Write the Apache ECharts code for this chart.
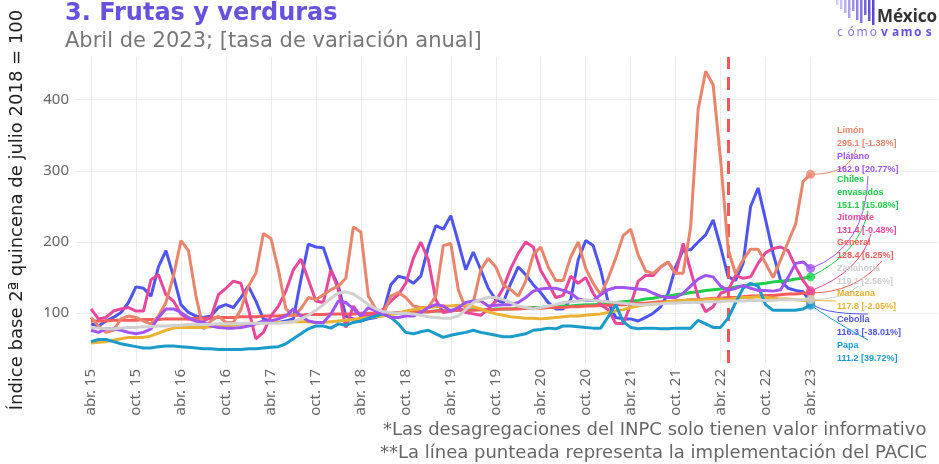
<!DOCTYPE html>
<html>
<head>
<meta charset="utf-8">
<script src="https://cdn.jsdelivr.net/npm/echarts@6.0.0/dist/echarts.min.js"></script>
<style>
html, body { margin: 0; padding: 0; background: #fff; }
#chart { width: 939px; height: 464px; }
</style>
</head>
<body>
<div id="chart"></div>
<script>
var monthNames = ['ene.', 'feb.', 'mar.', 'abr.', 'may.', 'jun.', 'jul.', 'ago.', 'sep.', 'oct.', 'nov.', 'dic.'];

// feb. 15 .. sep. 24 (extra months only give room on both sides of the data)
var categories = [];
for (var yr = 2015; yr <= 2024; yr++) {
    for (var mo = 0; mo < 12; mo++) {
        if ((yr === 2015 && mo < 1) || (yr === 2024 && mo > 8)) continue;
        categories.push(monthNames[mo] + ' ' + String(yr).slice(2));
    }
}
var firstMonth = 'abr. 15';
var lastMonth = 'abr. 23';
var pacicMonth = 'may. 22';

// abr. 15 .. abr. 23, monthly
var cebolla = [
    85, 82, 89, 94, 101, 115, 137, 135, 124, 165, 188, 152, 112, 101, 96, 94, 96, 108, 112, 108, 122, 138, 117, 92, 89,
    87, 89, 92, 147, 197, 193, 192, 161, 138, 96, 92, 89, 92, 94, 101, 140, 152, 149, 142, 152, 193, 223, 218, 237, 200,
    161, 186, 161, 135, 119, 115, 142, 165, 154, 140, 129, 115, 106, 106, 119, 175, 202, 195, 161, 115, 94, 92, 92, 89, 94,
    100, 109, 128, 165, 189, 189, 200, 210, 231, 193, 151, 146, 170, 250, 276, 231, 184, 146, 135, 132, 130, 116.3
];
var chiles = new Array(36).fill(null).concat([
    98, 99, 99, 100, 100, 100, 101, 101, 102, 102, 103, 103, 104, 104,
    104, 105, 105, 105, 106, 106, 106, 107, 107, 108, 108, 109, 109, 110, 110, 111, 112, 112, 113, 114, 115, 116, 117, 118, 120,
    121, 123, 124, 126, 127, 129, 130, 132, 133, 134, 135, 137, 138, 140, 141, 142, 144, 145, 146, 148, 149, 151.1
]);
var general = [
    89, 89, 89, 90, 90, 90, 90, 91, 91, 91, 92, 92, 92, 92, 93, 93, 93, 94, 94, 94, 95, 95, 95, 96, 96,
    96, 97, 97, 97, 98, 98, 98, 99, 99, 99, 99, 100, 100, 100, 100, 101, 101, 101, 102, 102, 102, 103, 103, 103, 104,
    104, 104, 105, 105, 105, 106, 106, 106, 107, 107, 107, 108, 108, 108, 109, 109, 110, 110, 111, 111, 112, 112, 113, 114, 114,
    115, 116, 116, 117, 118, 119, 119, 120, 121, 121, 122, 122, 123, 124, 124, 125, 125, 126, 127, 127, 128, 128.4
];
var jitomate = [
    106, 92, 94, 103, 106, 108, 103, 103, 147, 154, 126, 117, 99, 92, 89, 89, 94, 126, 135, 145, 142, 106, 64, 73, 96,
    110, 131, 161, 176, 147, 117, 115, 161, 133, 80, 110, 96, 96, 99, 106, 117, 126, 142, 177, 200, 175, 119, 101, 103, 108,
    101, 99, 97, 106, 117, 135, 163, 184, 200, 193, 160, 142, 122, 125, 152, 142, 150, 128, 112, 105, 86, 85, 112, 145, 153,
    153, 165, 172, 155, 198, 160, 123, 102, 109, 128, 132, 153, 149, 151, 170, 185, 191, 193, 188, 165, 146, 131.4
];
var limon = [
    94, 82, 73, 76, 92, 96, 94, 89, 85, 96, 115, 152, 202, 188, 124, 78, 89, 96, 87, 87, 105, 138, 156, 212, 205,
    161, 106, 96, 106, 122, 119, 126, 133, 138, 149, 221, 214, 124, 106, 99, 124, 129, 122, 110, 108, 108, 124, 195, 198, 133,
    106, 115, 161, 177, 165, 140, 133, 124, 145, 182, 193, 165, 146, 146, 179, 200, 163, 142, 126, 149, 177, 209, 218, 182, 159,
    156, 165, 172, 156, 156, 221, 386, 440, 421, 315, 190, 155, 175, 190, 190, 170, 150, 175, 200, 225, 285, 295.1
];
var manzana = [
    58, 59, 60, 62, 64, 66, 66, 66, 68, 72, 76, 79, 80, 80, 80, 80, 81, 82, 82, 83, 84, 85, 86, 87, 88,
    87, 87, 88, 88, 88, 87, 87, 88, 89, 90, 91, 93, 94, 95, 96, 98, 100, 103, 105, 107, 108, 109, 110, 110, 111,
    111, 109, 106, 102, 99, 97, 95, 94, 93, 93, 92, 93, 94, 95, 96, 96, 97, 98, 99, 101, 103, 105, 108, 110, 112,
    113, 114, 116, 117, 118, 118, 119, 119, 120, 120, 119, 121, 122, 122, 123, 122, 121, 120, 120, 119, 118, 117.8
];
var papa = [
    60, 63, 63, 60, 57, 55, 53, 51, 51, 53, 54, 54, 53, 52, 51, 50, 50, 49, 49, 49, 49, 50, 50, 51, 52,
    53, 57, 64, 71, 78, 82, 82, 79, 85, 83, 87, 89, 93, 96, 99, 94, 85, 73, 71, 74, 76, 71, 66, 69, 71,
    73, 76, 73, 71, 69, 67, 67, 69, 71, 76, 77, 79, 78, 82, 82, 81, 80, 79, 79, 95, 112, 88, 80, 78, 79,
    79, 78, 78, 79, 79, 79, 90, 85, 80, 80, 93, 115, 135, 142, 138, 112, 104, 104, 104, 104, 106, 111.2
];
var platano = [
    76, 73, 78, 78, 76, 73, 71, 73, 78, 94, 106, 106, 101, 94, 89, 87, 82, 80, 79, 79, 80, 82, 85, 89, 89,
    92, 96, 106, 96, 89, 87, 87, 99, 117, 115, 106, 96, 108, 103, 99, 94, 94, 96, 96, 101, 108, 112, 110, 103, 108,
    115, 117, 117, 110, 111, 112, 112, 115, 122, 131, 134, 135, 135, 132, 128, 120, 118, 118, 126, 133, 136, 136, 135, 134, 133,
    128, 124, 122, 122, 128, 138, 148, 153, 151, 138, 132, 135, 139, 135, 132, 132, 131, 133, 150, 170, 172, 162.9
];
var zanahoria = [
    80, 79, 78, 78, 79, 80, 80, 81, 81, 82, 82, 83, 83, 84, 84, 84, 84, 85, 85, 85, 85, 86, 86, 86, 86,
    86, 87, 88, 92, 97, 104, 112, 121, 128, 130, 127, 120, 112, 106, 102, 101, 100, 100, 99, 97, 95, 94, 93, 93, 96,
    105, 115, 119, 122, 122, 119, 115, 110, 108, 106, 108, 110, 112, 115, 116, 117, 119, 118, 117, 116, 115, 114, 113, 112, 112,
    113, 113, 114, 114, 115, 115, 115, 116, 116, 116, 117, 117, 117, 118, 118, 118, 118, 119, 119, 119, 119, 119.1
];

// drawing order (last one on top)
var seriesNames = ['Cebolla', 'Chiles envasados', 'General', 'Jitomate', 'Limón', 'Manzana', 'Papa', 'Plátano', 'Zanahoria'];
var seriesValues = [cebolla, chiles, general, jitomate, limon, manzana, papa, platano, zanahoria];
var seriesColors = ['#4d55ee', '#1fcf4a', '#f65c58', '#e8479c', '#e8856b', '#e9b233', '#1a9bc9', '#a254f2', '#d0d0d0'];

// end labels, top to bottom
var labelNames = ['Limón', 'Plátano', 'Chiles\nenvasados', 'Jitomate', 'General', 'Zanahoria', 'Manzana', 'Cebolla', 'Papa'];
var labelSeries = ['Limón', 'Plátano', 'Chiles envasados', 'Jitomate', 'General', 'Zanahoria', 'Manzana', 'Cebolla', 'Papa'];
var labelChange = ['-1.38%', '20.77%', '15.08%', '-0.48%', '6.25%', '2.56%', '-2.05%', '-38.01%', '39.72%'];

var firstIdx = categories.indexOf(firstMonth);

function toData(vals) {
    return vals.map(function (v, i) {
        return [categories[firstIdx + i], v == null ? '-' : v];
    });
}

function isLabelMonth(index) {
    var k = index - firstIdx;
    return k >= 0 && k % 6 === 0 && index <= categories.indexOf(lastMonth);
}

var series = seriesNames.map(function (name, i) {
    var s = {
        name: name,
        type: 'line',
        data: toData(seriesValues[i]),
        symbol: 'none',
        lineStyle: { width: 3, color: seriesColors[i] },
        itemStyle: { color: seriesColors[i] },
        z: 2 + i,
        silent: true
    };
    if (name === 'General') {
        s.markLine = {
            symbol: 'none',
            silent: true,
            label: { show: false },
            lineStyle: { color: '#f4575a', type: [13, 8], width: 3 },
            data: [{ xAxis: pacicMonth }]
        };
    }
    return s;
});

series.push({
    type: 'scatter',
    symbolSize: 9,
    z: 20,
    silent: true,
    data: seriesNames.map(function (name, i) {
        var vals = seriesValues[i];
        return { value: [lastMonth, vals[vals.length - 1]], itemStyle: { color: seriesColors[i] } };
    })
});

var chart = echarts.init(document.getElementById('chart'));
var font = '"Noto Sans", sans-serif';
var wide = '"DejaVu Sans", sans-serif';

chart.setOption({
    animation: false,
    grid: { left: 68, right: 1, top: 57, bottom: 101 },
    xAxis: {
        type: 'category',
        data: categories,
        boundaryGap: false,
        axisLine: { show: false },
        axisTick: { show: false },
        axisLabel: {
            rotate: 90,
            interval: isLabelMonth,
            fontSize: 15,
            color: '#666',
            margin: 6,
            fontFamily: font
        },
        splitLine: { show: true, interval: isLabelMonth, lineStyle: { color: '#ececec', width: 1 } }
    },
    yAxis: {
        type: 'value',
        min: 30,
        max: 460,
        splitNumber: 5,
        name: 'Índice base 2ª quincena de julio 2018 = 100',
        nameLocation: 'middle',
        nameGap: 50,
        nameTextStyle: { fontSize: 18, color: '#222', fontFamily: wide },
        axisLine: { show: false },
        axisTick: { show: false },
        axisLabel: { fontSize: 15, color: '#666', margin: 7, fontFamily: font, showMinLabel: false, showMaxLabel: false },
        splitLine: { lineStyle: { color: '#ececec', width: 1 }, showMinLine: false, showMaxLine: false }
    },
    series: series
});

// texts, logo, end labels and their leader lines
var graphics = [
    { type: 'text', x: 65, y: 14, style: { text: '3. Frutas y verduras', font: 'bold 24px ' + wide, fill: '#6652dd', verticalAlign: 'middle' } },
    { type: 'text', x: 65, y: 42, style: { text: 'Abril de 2023; [tasa de variación anual]', font: '21px ' + wide, fill: '#777', verticalAlign: 'middle' } },
    { type: 'text', x: 383, y: 430, style: { text: '*Las desagregaciones del INPC solo tienen valor informativo', font: '18px ' + wide, fill: '#666', verticalAlign: 'middle' } },
    { type: 'text', x: 380, y: 453, style: { text: '**La línea punteada representa la implementación del PACIC', font: '18px ' + wide, fill: '#666', verticalAlign: 'middle' } },
    { type: 'text', x: 877, y: 17, style: { text: 'México', font: 'bold 17px ' + font, fill: '#333', verticalAlign: 'middle' } }
];

var logoBars = [5, 9, 13, 18, 11, 20, 23, 15, 21, 25];
var barColors = ['#d6d0f6', '#c9c1f2', '#bbb2ee', '#ada2ea', '#9f93e6', '#9183e2', '#8374de', '#7564da', '#6755d6', '#5946d2'];
logoBars.forEach(function (h, i) {
    graphics.push({ type: 'rect', shape: { x: 836 + i * 4, y: 0, width: 2.5, height: h }, style: { fill: barColors[i] } });
});

var logoWord = 'cómovamos';
for (var c = 0; c < logoWord.length; c++) {
    graphics.push({
        type: 'text', x: 840 + c * 11.1, y: 33,
        style: {
            text: logoWord[c], font: (c < 4 ? '' : 'bold ') + '12px ' + font,
            fill: c < 4 ? '#8a7be6' : '#6652dd', align: 'center', verticalAlign: 'middle'
        }
    });
}

var labelTop = [124, 150, 173, 211, 236, 262, 287, 313, 339];
var anchors = [[856, 149], [868, 176], [868, 211], [871, 234], [882, 261], [858, 286], [836, 301], [868, 314], [868, 340]];
var bends = [[850, 0], [866, 248], [860, 252], [860, 272], [855, 0], [845, 0], [822, 0], [818, 314], [835, 322]];

labelSeries.forEach(function (name, j) {
    var i = seriesNames.indexOf(name);
    var vals = seriesValues[i];
    var last = vals[vals.length - 1];
    var p = chart.convertToPixel({ gridIndex: 0 }, [lastMonth, last]);
    var cy = bends[j][1] || p[1];
    graphics.push({
        type: 'bezierCurve',
        silent: true,
        shape: { x1: p[0], y1: p[1], x2: anchors[j][0], y2: anchors[j][1], cpx1: bends[j][0], cpy1: cy },
        style: { stroke: seriesColors[i], lineWidth: 1, fill: null }
    });
    graphics.push({
        type: 'text',
        x: 837,
        y: labelTop[j],
        style: {
            text: labelNames[j] + '\n' + last.toFixed(1) + ' [' + labelChange[j] + ']',
            font: 'bold 9px "Liberation Sans", sans-serif',
            lineHeight: 13,
            fill: seriesColors[i],
            verticalAlign: 'top'
        }
    });
});

chart.setOption({ graphic: graphics });
</script>
</body>
</html>
